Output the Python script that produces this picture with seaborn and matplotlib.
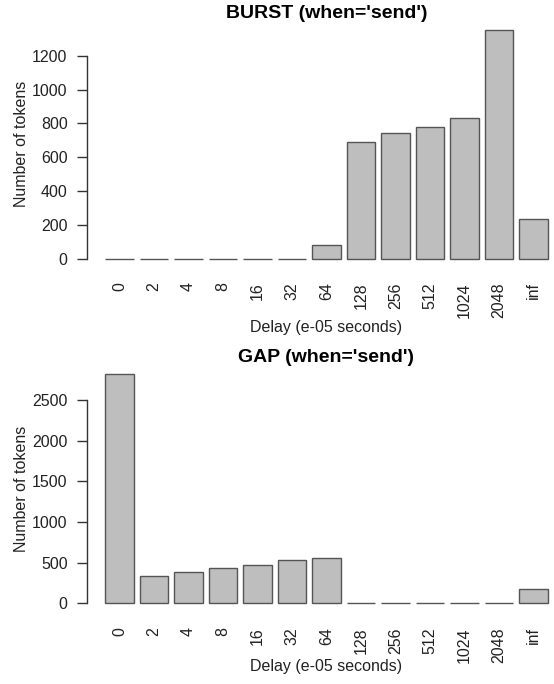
import pandas as pd
import seaborn as sns
import matplotlib.pyplot as plt

# data
delays = ["0", "2", "4", "8", "16", "32", "64", "128", "256", "512", "1024", "2048", "inf"]
burst_counts = [0, 0, 0, 0, 0, 0, 83, 692, 745, 777, 830, 1352, 233]
gap_counts = [2824, 340, 381, 434, 476, 537, 557, 0, 0, 0, 0, 0, 176]
burst_ticks = [0, 200, 400, 600, 800, 1000, 1200]
gap_ticks = [0, 500, 1000, 1500, 2000, 2500]

sns.set_style("white")
plt.rcParams['font.family'] = ['Liberation Sans', 'DejaVu Sans']

W, H = 554, 684
fig = plt.figure(figsize=(W / 100, H / 100), dpi=100)

def px_axes(left, top, right, bottom):
  return fig.add_axes([left / W, 1 - bottom / H, (right - left) / W, (bottom - top) / H])

def draw_panel(ax, counts, ticks, title, xlab_y):
  df = pd.DataFrame({"delay": delays, "count": counts})
  sns.barplot(data=df, x="delay", y="count", order=delays, ax=ax,
              color="#BEBEBE", saturation=1, width=1 / 1.2,
              edgecolor="#555555", linewidth=1)
  top = max(counts)
  ax.set_ylim(-0.04 * top, 1.04 * top)
  span = 12 + 1 / 1.2
  ax.set_xlim(-0.5 / 1.2 - 0.04 * span, 12 + 0.5 / 1.2 + 0.04 * span)
  ax.set_yticks(ticks)
  ax.set_yticklabels([str(t) for t in ticks])
  for side in ["top", "right", "bottom"]:
    ax.spines[side].set_visible(False)
  ax.spines["left"].set_bounds(ticks[0], ticks[-1])
  ax.spines["left"].set_color("#333333")
  ax.spines["left"].set_linewidth(1)
  ax.tick_params(axis="y", left=True, length=7.2, width=1, color="#333333",
                 pad=7, labelsize=11.5, labelcolor="#222222")
  ax.tick_params(axis="x", bottom=False, pad=7, labelsize=11.5,
                 labelcolor="#222222", labelrotation=90)
  ax.set_ylabel("Number of tokens", fontsize=11.5, color="#222222")
  ax.yaxis.set_label_coords(-0.1365, 0.5)
  ax.yaxis.label.set_va("center")
  ax.set_xlabel("Delay (e-05 seconds)", fontsize=11.5, color="#222222")
  ax.xaxis.set_label_coords(0.5, xlab_y)
  ax.xaxis.label.set_va("center")
  ax.set_title(title, fontsize=14, fontweight="bold", color="black",
               y=1.028, pad=0, va="center")

ax1 = px_axes(87.3, 20.9, 565.7, 267.8)
draw_panel(ax1, burst_counts, burst_ticks, "BURST (when='send')", -0.24)

ax2 = px_axes(87.3, 364.5, 565.7, 612.5)
draw_panel(ax2, gap_counts, gap_ticks, "GAP (when='send')", -0.2185)

fig.savefig("out.png", dpi=100)
